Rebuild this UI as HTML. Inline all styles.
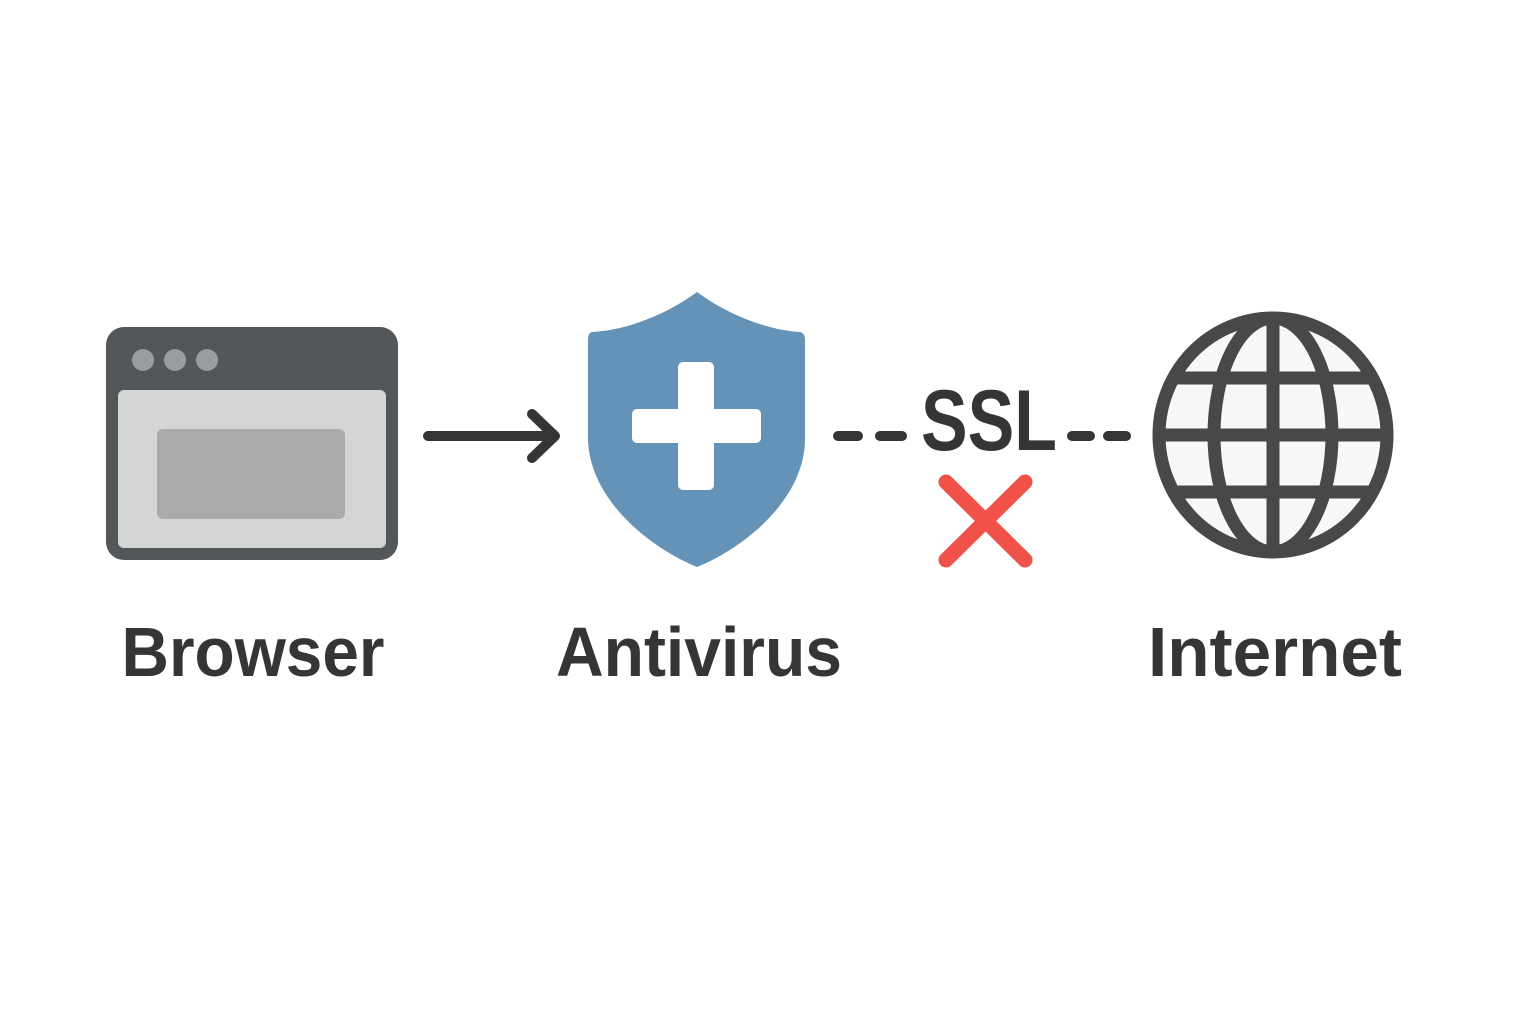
<!DOCTYPE html>
<html><head><style>
html,body{margin:0;padding:0;background:#fff;}
svg{display:block;}
text{font-family:"Liberation Sans",sans-serif;font-weight:bold;fill:#333536;}
</style></head><body>
<svg width="1536" height="1024" viewBox="0 0 1536 1024" xmlns="http://www.w3.org/2000/svg">
<defs><clipPath id="g"><ellipse cx="1273" cy="435" rx="114" ry="117"/></clipPath></defs>
<rect width="1536" height="1024" fill="#fff"/>
<!-- Browser -->
<rect x="106" y="327" width="292" height="233" rx="18" fill="#53575a"/>
<rect x="118" y="390" width="268" height="158" rx="6" fill="#d4d5d5"/>
<rect x="157" y="429" width="188" height="90" rx="6" fill="#a9aaaa"/>
<circle cx="143" cy="360" r="11" fill="#9a9c9d"/>
<circle cx="175" cy="360" r="11" fill="#9a9c9d"/>
<circle cx="207" cy="360" r="11" fill="#9a9c9d"/>
<!-- Arrow -->
<g stroke="#333536" stroke-width="10" stroke-linecap="round" stroke-linejoin="round" fill="none">
<line x1="428" y1="436" x2="554" y2="436"/>
<polyline points="532,414 555,436 532,458"/>
</g>
<!-- Shield -->
<path d="M697 292 C 670 312, 630 330, 592 332 Q 588 333 588 340 L 588 440 C 590 500, 650 548, 697 567 C 744 548, 804 500, 805 440 L 805 340 Q 805 333 800 332 C 764 330, 724 312, 697 292 Z" fill="#6593b7"/>
<rect x="678" y="362" width="36" height="128" rx="5" fill="#fff"/>
<rect x="632" y="409" width="129" height="34" rx="5" fill="#fff"/>
<!-- SSL dashes -->
<g stroke="#333536" stroke-width="10" stroke-linecap="round">
<line x1="838" y1="436" x2="858" y2="436"/>
<line x1="880" y1="436" x2="902" y2="436"/>
<line x1="1072" y1="436" x2="1090" y2="436"/>
<line x1="1108" y1="436" x2="1126" y2="436"/>
</g>
<text x="989" y="450" font-size="86" text-anchor="middle" textLength="136" lengthAdjust="spacingAndGlyphs">SSL</text>
<!-- X -->
<g stroke="#f0524a" stroke-width="15" stroke-linecap="round">
<line x1="946" y1="482" x2="1025" y2="560"/>
<line x1="1025" y1="482" x2="946" y2="560"/>
</g>
<!-- Globe -->
<ellipse cx="1273" cy="435" rx="114" ry="117" fill="#f8f8f8"/>
<g stroke="#464849" stroke-width="13" fill="none" clip-path="url(#g)">
<ellipse cx="1273" cy="435" rx="59" ry="117"/>
<line x1="1273" y1="310" x2="1273" y2="560"/>
<line x1="1150" y1="435" x2="1395" y2="435"/>
<line x1="1150" y1="378" x2="1395" y2="378"/>
<line x1="1150" y1="492" x2="1395" y2="492"/>
</g>
<ellipse cx="1273" cy="435" rx="114" ry="117" fill="none" stroke="#464849" stroke-width="13"/>
<!-- Labels -->
<text x="253" y="676" font-size="70" text-anchor="middle" textLength="263" lengthAdjust="spacingAndGlyphs">Browser</text>
<text x="699" y="676" font-size="70" text-anchor="middle" textLength="286" lengthAdjust="spacingAndGlyphs">Antivirus</text>
<text x="1275" y="676" font-size="70" text-anchor="middle" textLength="254" lengthAdjust="spacingAndGlyphs">Internet</text>
</svg>
</body></html>
